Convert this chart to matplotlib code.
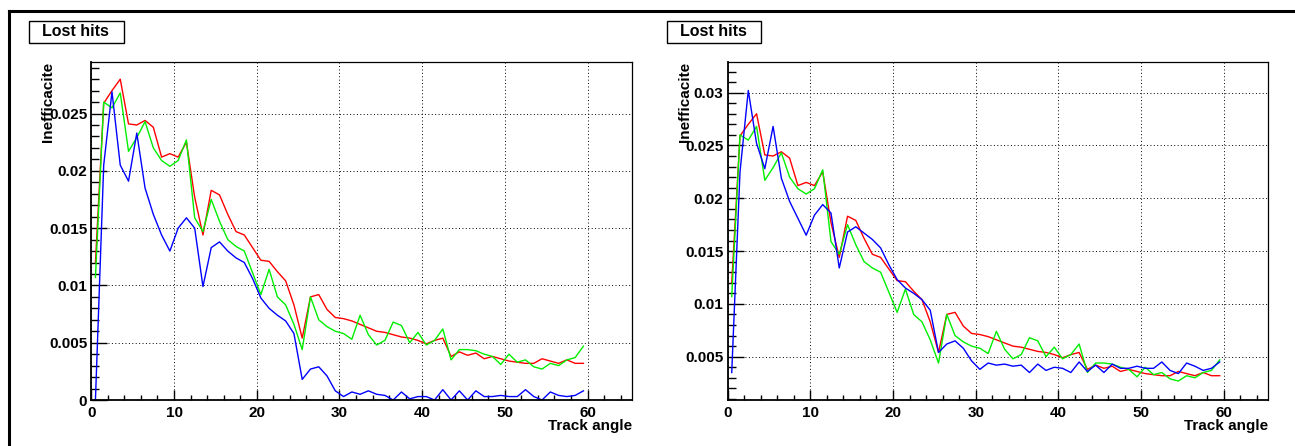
import numpy as np
import matplotlib.pyplot as plt
from matplotlib.ticker import MultipleLocator, FuncFormatter
from matplotlib.patches import Rectangle
from matplotlib.lines import Line2D

plt.rcParams['font.family'] = ['Liberation Sans', 'DejaVu Sans']
plt.rcParams['font.weight'] = 'bold'

# bin centres of the track angle histogram (1 degree bins)
angle = np.arange(0.5, 60, 1.0)

red = [0.0120, 0.0259, 0.0270, 0.0280, 0.0241, 0.0240, 0.0244, 0.0238, 0.0212, 0.0215,
       0.0212, 0.0225, 0.0177, 0.0144, 0.0183, 0.0179, 0.0162, 0.0147, 0.0144, 0.0133,
       0.0122, 0.0121, 0.0112, 0.0104, 0.0083, 0.0054, 0.0090, 0.0092, 0.0079, 0.0072,
       0.0071, 0.0069, 0.0066, 0.0063, 0.0060, 0.0059, 0.0057, 0.0055, 0.0054, 0.0052,
       0.0049, 0.0052, 0.0054, 0.0038, 0.0042, 0.0039, 0.0041, 0.0036, 0.0038, 0.0036,
       0.0034, 0.0033, 0.0032, 0.0032, 0.0036, 0.0034, 0.0032, 0.0035, 0.0032, 0.0032]

green = [0.0107, 0.0260, 0.0255, 0.0268, 0.0217, 0.0229, 0.0243, 0.0220, 0.0209, 0.0204,
         0.0209, 0.0227, 0.0159, 0.0147, 0.0175, 0.0156, 0.0140, 0.0134, 0.0130, 0.0111,
         0.0092, 0.0114, 0.0090, 0.0083, 0.0066, 0.0044, 0.0090, 0.0070, 0.0064, 0.0060,
         0.0058, 0.0053, 0.0074, 0.0057, 0.0048, 0.0052, 0.0068, 0.0065, 0.0050, 0.0059,
         0.0048, 0.0052, 0.0062, 0.0035, 0.0044, 0.0044, 0.0043, 0.0040, 0.0038, 0.0031,
         0.0040, 0.0033, 0.0035, 0.0029, 0.0027, 0.0032, 0.0030, 0.0035, 0.0037, 0.0047]

blue_left = [0.0000, 0.0205, 0.0269, 0.0205, 0.0191, 0.0233, 0.0185, 0.0162, 0.0144, 0.0130,
             0.0150, 0.0159, 0.0150, 0.0099, 0.0133, 0.0138, 0.0130, 0.0124, 0.0120, 0.0106,
             0.0089, 0.0080, 0.0074, 0.0069, 0.0058, 0.0018, 0.0027, 0.0029, 0.0021, 0.0008,
             0.0003, 0.0007, 0.0005, 0.0008, 0.0005, 0.0004, 0.0000, 0.0007, 0.0001, 0.0003,
             0.0003, 0.0000, 0.0009, 0.0000, 0.0008, 0.0000, 0.0008, 0.0003, 0.0003, 0.0004,
             0.0003, 0.0003, 0.0009, 0.0003, 0.0000, 0.0007, 0.0004, 0.0003, 0.0004, 0.0008]

blue_right = [0.0035, 0.0225, 0.0302, 0.0252, 0.0228, 0.0268, 0.0219, 0.0197, 0.0181, 0.0165,
              0.0184, 0.0194, 0.0186, 0.0134, 0.0168, 0.0173, 0.0167, 0.0161, 0.0153, 0.0137,
              0.0123, 0.0115, 0.0110, 0.0104, 0.0094, 0.0054, 0.0062, 0.0065, 0.0058, 0.0046,
              0.0038, 0.0044, 0.0042, 0.0043, 0.0041, 0.0042, 0.0035, 0.0043, 0.0037, 0.0040,
              0.0039, 0.0035, 0.0045, 0.0036, 0.0042, 0.0035, 0.0043, 0.0039, 0.0039, 0.0041,
              0.0039, 0.0039, 0.0045, 0.0037, 0.0034, 0.0044, 0.0041, 0.0037, 0.0039, 0.0045]

W, H = 1295, 446
fig = plt.figure(figsize=(W / 100, H / 100), dpi=100)


def fx(x):
    return x / W


def fy(y):
    return 1 - y / H


def make_panel(left_px, ylim, blue, box_px):
    ax = fig.add_axes([fx(left_px), fy(400), (540.5) / W, (400 - 62) / H])
    ax.plot(angle, red, color='#ff0000', lw=1.0)
    ax.plot(angle, green, color='#00ee00', lw=1.0)
    ax.plot(angle, blue, color='#0000ff', lw=1.0)
    ax.set_xlim(0, 65.35)
    ax.set_ylim(*ylim)
    ax.xaxis.set_major_locator(MultipleLocator(10))
    ax.xaxis.set_minor_locator(MultipleLocator(2))
    ax.yaxis.set_major_locator(MultipleLocator(0.005))
    ax.yaxis.set_minor_locator(MultipleLocator(0.001))
    ax.yaxis.set_major_formatter(FuncFormatter(lambda v, p: '%g' % round(v, 4)))
    ax.tick_params(axis='both', which='both', direction='in', labelsize=11, width=1.0)
    ax.tick_params(axis='y', which='major', length=11.5, pad=3)
    ax.tick_params(axis='y', which='minor', length=5.8)
    ax.tick_params(axis='x', which='major', length=7.2, pad=4)
    ax.tick_params(axis='x', which='minor', length=3.6)
    ax.grid(True, which='major', color='black', ls=(0, (1, 2.5)), lw=0.7)
    for s in ['left', 'bottom']:
        ax.spines[s].set_linewidth(1.3)
    for s in ['top', 'right']:
        ax.spines[s].set_linewidth(0.9)
    ax.set_xlabel('Track angle', fontsize=11, fontweight='bold', loc='right')
    ax.xaxis.set_label_coords(1.0, -30 / 338)
    ax.xaxis.label.set_va('baseline')
    ax.set_ylabel('Inefficacite', fontsize=11, fontweight='bold', loc='top')
    ax.yaxis.set_label_coords(-43 / 540.5, 1.0)
    ax.yaxis.label.set_va('center')

    x0, x1 = box_px
    fig.add_artist(Rectangle((fx(x0), fy(42.7)), (x1 - x0) / W, 22 / H,
                             transform=fig.transFigure, facecolor='white',
                             edgecolor='black', lw=1.0))
    fig.text(fx(x0 + 13), fy(31.7), 'Lost hits', fontsize=11.5, fontweight='bold',
             ha='left', va='center')
    return ax


make_panel(91.3, (0, 0.0295), blue_left, (29.3, 124.3))
make_panel(727.6, (0.0009, 0.0329), blue_right, (666.7, 760.7))

# canvas border
fig.add_artist(Line2D([fx(8.5), 1.0], [fy(11), fy(11)], transform=fig.transFigure,
                      color='black', lw=2.2))
fig.add_artist(Line2D([fx(8.5), fx(8.5)], [fy(11), 0.0], transform=fig.transFigure,
                      color='black', lw=2.2))

fig.savefig('out.png', dpi=100)
